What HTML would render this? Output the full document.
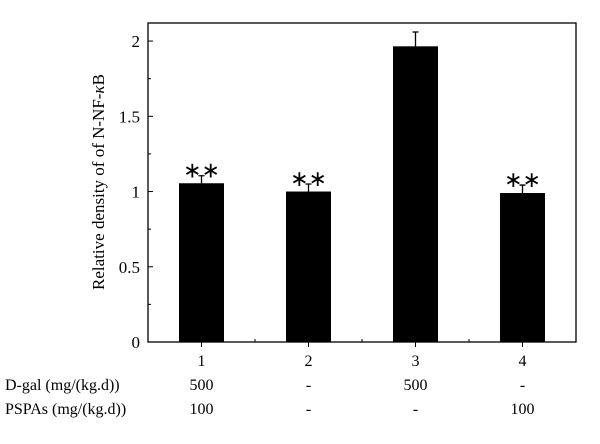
<!DOCTYPE html>
<html><head><meta charset="utf-8"><style>body{margin:0;background:#fff}svg{display:block}text{font-family:"Liberation Serif",serif;fill:#000}</style></head>
<body>
<svg width="600" height="444" id="c">
<rect width="600" height="444" fill="#fff"/>
<g id="g"></g>
<text transform="translate(104,182) rotate(-90)" text-anchor="middle" font-size="17">Relative density of of N-NF-<tspan font-style="italic">κ</tspan>B</text>
<g font-size="16">
<text x="5" y="390">D-gal (mg/(kg.d))</text>
<text x="5" y="414">PSPAs (mg/(kg.d))</text>
</g>
</svg>
<script>
const categories=["1","2","3","4"];
const values=[1.055,1.0,1.965,0.99];
const errors=[0.05,0.05,0.095,0.053];
const sig=["**","**","","**"];
const dgal=["500","-","500","-"];
const pspa=["100","-","-","100"];
const yTicks=[0,0.5,1,1.5,2];
const yTickLabels=["0","0.5","1","1.5","2"];
const L=148,R=576,T=23,B=342,ymax=2.12;
const NS="http://www.w3.org/2000/svg";
const g=document.getElementById('g');
const y=v=>B-v*(B-T)/ymax;
const bw=(R-L)/categories.length;
const x=i=>L+bw*(i+0.5);
function el(t,a,txt){const e=document.createElementNS(NS,t);for(const k in a)e.setAttribute(k,a[k]);if(txt!==undefined)e.textContent=txt;g.appendChild(e);return e;}
const frame=el('rect',{x:L,y:T,width:R-L,height:B-T,fill:'none',stroke:'#000','stroke-width':1.3});


yTicks.forEach((v,i)=>{
 const t=el('line',{x1:L,x2:L+5,y1:y(v),y2:y(v),stroke:'#000'});
 
 
 if(i<yTicks.length-1){const m=el('line',{x1:L,x2:L+3,y1:y(v+0.25),y2:y(v+0.25),stroke:'#000'});
 
 }
 const l=el('text',{x:L-8,y:y(v)+6,'text-anchor':'end','font-size':17},yTickLabels[i]);
 
 
});
categories.forEach((c,i)=>{
 const cx=x(i),w=45;
 const b=el('rect',{x:cx-w/2,y:y(values[i]),width:w,height:B-y(values[i]),fill:'#000'});
 
 
 const top=y(values[i]+errors[i]);
 const e=el('path',{d:`M${cx},${y(values[i])}V${top}M${cx-3},${top}H${cx+3}`,stroke:'#000','stroke-width':1.3,fill:'none'});
 
 
 if(sig[i]){const s=el('text',{x:cx,y:top+2,'text-anchor':'middle','font-size':22},'∗∗');
 
 }
 const tk=el('line',{x1:cx,x2:cx,y1:B,y2:B+5,stroke:'#000'});
 
 
 if(i>0){const m=el('line',{x1:L+bw*i,x2:L+bw*i,y1:B,y2:B-3,stroke:'#000'});
 
 }
 const lb=el('text',{x:cx,y:366,'text-anchor':'middle','font-size':16},c);
 
 
 const d=el('text',{x:cx,y:390,'text-anchor':'middle','font-size':16},dgal[i]);
 
 
 const p=el('text',{x:cx,y:414,'text-anchor':'middle','font-size':16},pspa[i]);
 
 
});
</script>
</body></html>
